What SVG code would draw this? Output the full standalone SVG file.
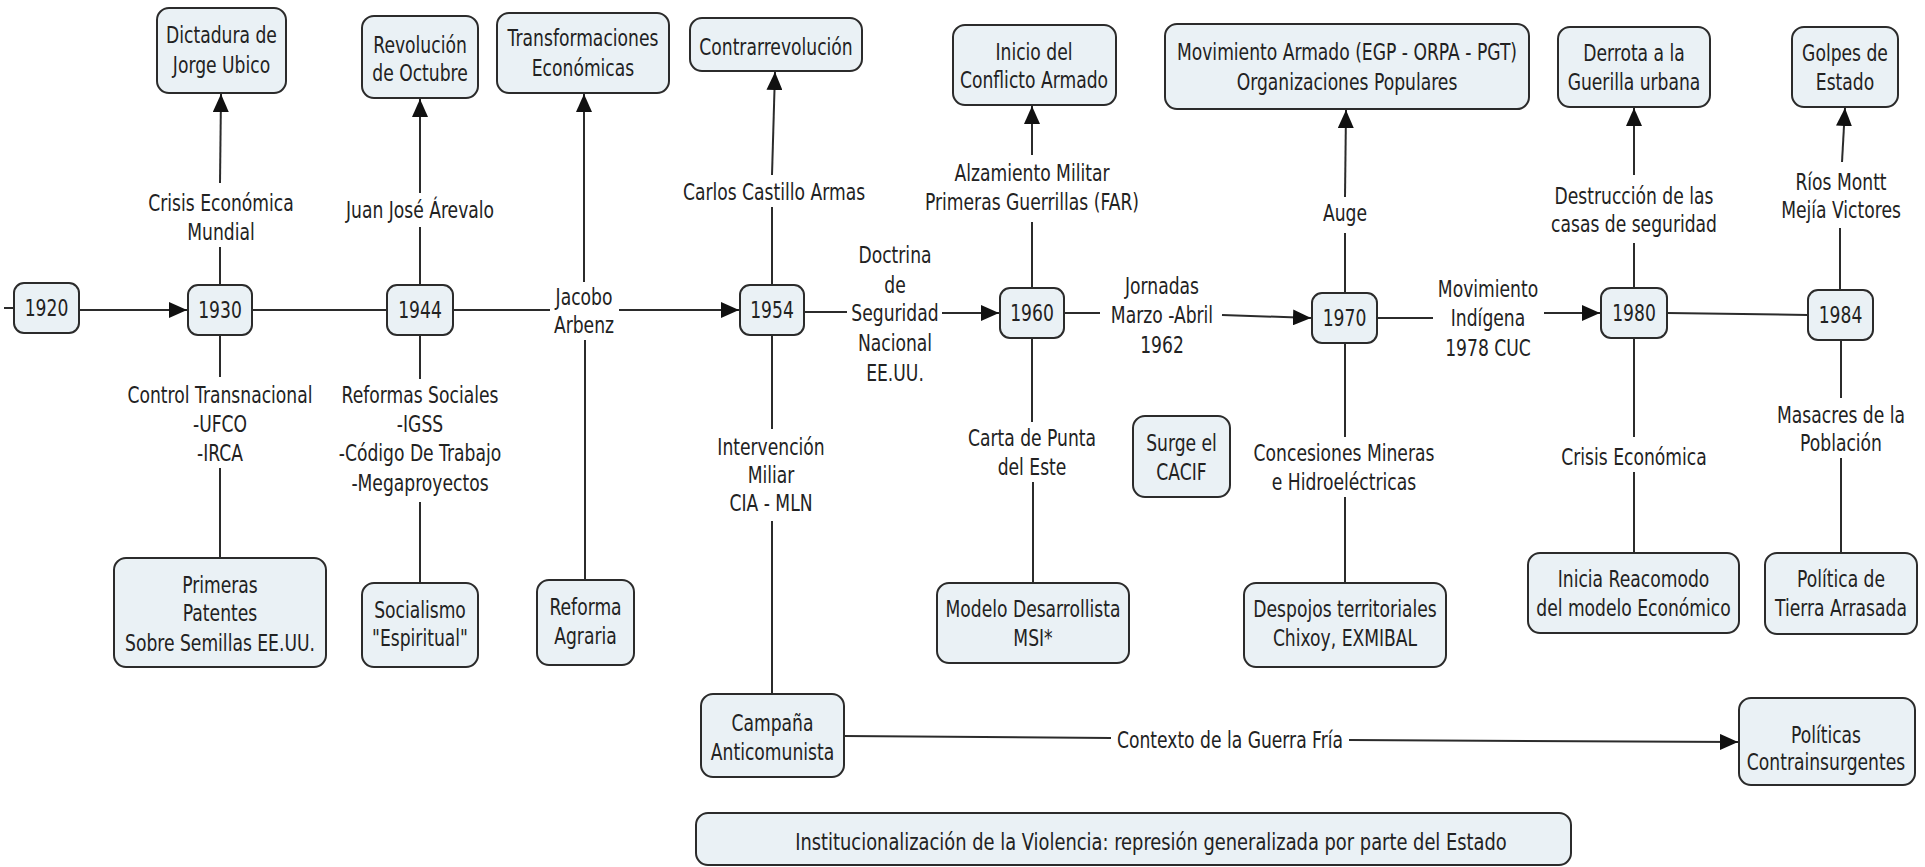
<svg xmlns="http://www.w3.org/2000/svg" width="1925" height="867" viewBox="0 0 1925 867">
<style>
.box{fill:#eaf1f5;stroke:#2b2b2b;stroke-width:2}
.t{font-family:"DejaVu Sans","Liberation Sans",sans-serif;font-size:23.5px;fill:#222;text-anchor:middle}
.ln{stroke:#2b2b2b;stroke-width:2;fill:none}
.ar{stroke:#2b2b2b;stroke-width:2;fill:none;marker-end:url(#arr)}
</style>
<defs>
<marker id="arr" viewBox="0 0 10 10" refX="10" refY="5" markerWidth="18" markerHeight="16" markerUnits="userSpaceOnUse" orient="auto" preserveAspectRatio="none"><path d="M0,0 L10,5 L0,10 z" fill="#111"/></marker>
</defs>
<rect width="1925" height="867" fill="#fff"/>

<g id="connectors">
<line class="ln" x1="4" y1="308" x2="14" y2="308"/>
<line class="ar" x1="79" y1="310" x2="187" y2="310"/>
<line class="ln" x1="252" y1="310" x2="387" y2="310"/>
<line class="ln" x1="453" y1="310" x2="550" y2="310"/>
<line class="ar" x1="619" y1="310" x2="739" y2="310"/>
<line class="ln" x1="804" y1="312" x2="847" y2="312"/>
<line class="ar" x1="942" y1="313" x2="999" y2="313"/>
<line class="ln" x1="1064" y1="313" x2="1100" y2="313"/>
<line class="ar" x1="1222" y1="315" x2="1311" y2="318"/>
<line class="ln" x1="1377" y1="318" x2="1433" y2="318"/>
<line class="ar" x1="1544" y1="313" x2="1600" y2="313"/>
<line class="ln" x1="1667" y1="313" x2="1808" y2="315"/>
<line class="ln" x1="220" y1="285" x2="220" y2="247"/>
<line class="ar" x1="220" y1="183" x2="221" y2="94"/>
<line class="ln" x1="420" y1="285" x2="420" y2="227"/>
<line class="ar" x1="420" y1="193" x2="420" y2="99"/>
<line class="ar" x1="584" y1="282" x2="584" y2="94"/>
<line class="ln" x1="772" y1="285" x2="772" y2="207"/>
<line class="ar" x1="772" y1="175" x2="775" y2="72"/>
<line class="ln" x1="1032" y1="288" x2="1032" y2="222"/>
<line class="ar" x1="1032" y1="155" x2="1032" y2="106"/>
<line class="ln" x1="1345" y1="293" x2="1345" y2="233"/>
<line class="ar" x1="1345" y1="197" x2="1346" y2="110"/>
<line class="ln" x1="1634" y1="288" x2="1634" y2="243"/>
<line class="ar" x1="1634" y1="175" x2="1634" y2="108"/>
<line class="ln" x1="1840" y1="290" x2="1840" y2="228"/>
<line class="ar" x1="1842" y1="162" x2="1845" y2="108"/>
<line class="ln" x1="220" y1="335" x2="220" y2="377"/>
<line class="ln" x1="220" y1="468" x2="220" y2="558"/>
<line class="ln" x1="420" y1="335" x2="420" y2="379"/>
<line class="ln" x1="420" y1="502" x2="420" y2="583"/>
<line class="ln" x1="585" y1="340" x2="585" y2="580"/>
<line class="ln" x1="772" y1="335" x2="772" y2="429"/>
<line class="ln" x1="772" y1="521" x2="772" y2="694"/>
<line class="ln" x1="1032" y1="338" x2="1032" y2="422"/>
<line class="ln" x1="1033" y1="482" x2="1033" y2="583"/>
<line class="ln" x1="1345" y1="343" x2="1345" y2="437"/>
<line class="ln" x1="1345" y1="497" x2="1345" y2="583"/>
<line class="ln" x1="1634" y1="338" x2="1634" y2="437"/>
<line class="ln" x1="1634" y1="472" x2="1634" y2="553"/>
<line class="ln" x1="1841" y1="340" x2="1841" y2="398"/>
<line class="ln" x1="1841" y1="458" x2="1841" y2="553"/>
<line class="ln" x1="844" y1="736" x2="1111" y2="738"/>
<line class="ar" x1="1349" y1="740" x2="1738" y2="742"/>
</g>

<g id="linking-phrases">
<text class="t" transform="matrix(0.73 0 0 1 221 0)"><tspan x="0" y="211">Crisis Económica</tspan><tspan x="0" y="240">Mundial</tspan></text>
<text class="t" transform="matrix(0.73 0 0 1 420 0)"><tspan x="0" y="218">Juan José Árevalo</tspan></text>
<text class="t" transform="matrix(0.73 0 0 1 584 0)"><tspan x="0" y="305">Jacobo</tspan><tspan x="0" y="333">Arbenz</tspan></text>
<text class="t" transform="matrix(0.73 0 0 1 774 0)"><tspan x="0" y="200">Carlos Castillo Armas</tspan></text>
<text class="t" transform="matrix(0.73 0 0 1 895 0)"><tspan x="0" y="263">Doctrina</tspan><tspan x="0" y="293">de</tspan><tspan x="0" y="321">Seguridad</tspan><tspan x="0" y="351">Nacional</tspan><tspan x="0" y="381">EE.UU.</tspan></text>
<text class="t" transform="matrix(0.73 0 0 1 1032 0)"><tspan x="0" y="181">Alzamiento Militar</tspan><tspan x="0" y="210">Primeras Guerrillas (FAR)</tspan></text>
<text class="t" transform="matrix(0.73 0 0 1 1162 0)"><tspan x="0" y="294">Jornadas</tspan><tspan x="0" y="323">Marzo -Abril</tspan><tspan x="0" y="353">1962</tspan></text>
<text class="t" transform="matrix(0.73 0 0 1 1345 0)"><tspan x="0" y="221">Auge</tspan></text>
<text class="t" transform="matrix(0.73 0 0 1 1488 0)"><tspan x="0" y="297">Movimiento</tspan><tspan x="0" y="326">Indígena</tspan><tspan x="0" y="356">1978 CUC</tspan></text>
<text class="t" transform="matrix(0.73 0 0 1 1634 0)"><tspan x="0" y="204">Destrucción de las</tspan><tspan x="0" y="232">casas de seguridad</tspan></text>
<text class="t" transform="matrix(0.73 0 0 1 1841 0)"><tspan x="0" y="190">Ríos Montt</tspan><tspan x="0" y="218">Mejía Victores</tspan></text>
<text class="t" transform="matrix(0.73 0 0 1 220 0)"><tspan x="0" y="403">Control Transnacional</tspan><tspan x="0" y="432">-UFCO</tspan><tspan x="0" y="461">-IRCA</tspan></text>
<text class="t" transform="matrix(0.73 0 0 1 420 0)"><tspan x="0" y="403">Reformas Sociales</tspan><tspan x="0" y="432">-IGSS</tspan><tspan x="0" y="461">-Código De Trabajo</tspan><tspan x="0" y="491">-Megaproyectos</tspan></text>
<text class="t" transform="matrix(0.73 0 0 1 771 0)"><tspan x="0" y="455">Intervención</tspan><tspan x="0" y="483">Miliar</tspan><tspan x="0" y="511">CIA - MLN</tspan></text>
<text class="t" transform="matrix(0.73 0 0 1 1032 0)"><tspan x="0" y="446">Carta de Punta</tspan><tspan x="0" y="475">del Este</tspan></text>
<text class="t" transform="matrix(0.73 0 0 1 1344 0)"><tspan x="0" y="461">Concesiones Mineras</tspan><tspan x="0" y="490">e Hidroeléctricas</tspan></text>
<text class="t" transform="matrix(0.73 0 0 1 1634 0)"><tspan x="0" y="465">Crisis Económica</tspan></text>
<text class="t" transform="matrix(0.73 0 0 1 1841 0)"><tspan x="0" y="423">Masacres de la</tspan><tspan x="0" y="451">Población</tspan></text>
<text class="t" transform="matrix(0.73 0 0 1 1230 0)"><tspan x="0" y="748">Contexto de la Guerra Fría</tspan></text>
</g>

<g id="n1920"><rect class="box" x="14" y="283" width="65" height="50" rx="10"/><text class="t" transform="matrix(0.73 0 0 1 46.5 0)"><tspan x="0" y="316">1920</tspan></text></g>
<g id="n1930"><rect class="box" x="188" y="285" width="64" height="50" rx="10"/><text class="t" transform="matrix(0.73 0 0 1 220 0)"><tspan x="0" y="318">1930</tspan></text></g>
<g id="n1944"><rect class="box" x="387" y="285" width="66" height="50" rx="10"/><text class="t" transform="matrix(0.73 0 0 1 420 0)"><tspan x="0" y="318">1944</tspan></text></g>
<g id="n1954"><rect class="box" x="740" y="285" width="64" height="50" rx="10"/><text class="t" transform="matrix(0.73 0 0 1 772 0)"><tspan x="0" y="318">1954</tspan></text></g>
<g id="n1960"><rect class="box" x="1000" y="288" width="64" height="50" rx="10"/><text class="t" transform="matrix(0.73 0 0 1 1032 0)"><tspan x="0" y="321">1960</tspan></text></g>
<g id="n1970"><rect class="box" x="1312" y="293" width="65" height="50" rx="10"/><text class="t" transform="matrix(0.73 0 0 1 1344.5 0)"><tspan x="0" y="326">1970</tspan></text></g>
<g id="n1980"><rect class="box" x="1601" y="288" width="66" height="50" rx="10"/><text class="t" transform="matrix(0.73 0 0 1 1634 0)"><tspan x="0" y="321">1980</tspan></text></g>
<g id="n1984"><rect class="box" x="1808" y="290" width="65" height="50" rx="10"/><text class="t" transform="matrix(0.73 0 0 1 1840.5 0)"><tspan x="0" y="323">1984</tspan></text></g>

<g id="dictadura"><rect class="box" x="157" y="8" width="129" height="85" rx="12"/><text class="t" transform="matrix(0.73 0 0 1 221.5 0)"><tspan x="0" y="43">Dictadura de</tspan><tspan x="0" y="73">Jorge Ubico</tspan></text></g>
<g id="revolucion"><rect class="box" x="362" y="16" width="116" height="82" rx="12"/><text class="t" transform="matrix(0.73 0 0 1 420 0)"><tspan x="0" y="53">Revolución</tspan><tspan x="0" y="81">de Octubre</tspan></text></g>
<g id="transformaciones"><rect class="box" x="497" y="13" width="172" height="80" rx="12"/><text class="t" transform="matrix(0.73 0 0 1 583 0)"><tspan x="0" y="46">Transformaciones</tspan><tspan x="0" y="76">Económicas</tspan></text></g>
<g id="contrarrevolucion"><rect class="box" x="690" y="18" width="172" height="53" rx="12"/><text class="t" transform="matrix(0.73 0 0 1 776 0)"><tspan x="0" y="55">Contrarrevolución</tspan></text></g>
<g id="inicio"><rect class="box" x="953" y="25" width="163" height="80" rx="12"/><text class="t" transform="matrix(0.73 0 0 1 1034 0)"><tspan x="0" y="60">Inicio del</tspan><tspan x="0" y="88">Conflicto Armado</tspan></text></g>
<g id="movimiento"><rect class="box" x="1165" y="24" width="364" height="85" rx="12"/><text class="t" transform="matrix(0.73 0 0 1 1347 0)"><tspan x="0" y="60">Movimiento Armado (EGP - ORPA - PGT)</tspan><tspan x="0" y="90">Organizaciones Populares</tspan></text></g>
<g id="derrota"><rect class="box" x="1558" y="27" width="152" height="80" rx="12"/><text class="t" transform="matrix(0.73 0 0 1 1634 0)"><tspan x="0" y="61">Derrota a la</tspan><tspan x="0" y="90">Guerilla urbana</tspan></text></g>
<g id="golpes"><rect class="box" x="1792" y="27" width="106" height="80" rx="12"/><text class="t" transform="matrix(0.73 0 0 1 1845 0)"><tspan x="0" y="61">Golpes de</tspan><tspan x="0" y="90">Estado</tspan></text></g>

<g id="primeras"><rect class="box" x="114" y="558" width="212" height="109" rx="12"/><text class="t" transform="matrix(0.73 0 0 1 220 0)"><tspan x="0" y="593">Primeras</tspan><tspan x="0" y="621">Patentes</tspan><tspan x="0" y="651">Sobre Semillas EE.UU.</tspan></text></g>
<g id="socialismo"><rect class="box" x="362" y="583" width="116" height="84" rx="12"/><text class="t" transform="matrix(0.73 0 0 1 420 0)"><tspan x="0" y="618">Socialismo</tspan><tspan x="0" y="646">"Espiritual"</tspan></text></g>
<g id="reforma"><rect class="box" x="537" y="580" width="97" height="85" rx="12"/><text class="t" transform="matrix(0.73 0 0 1 585.5 0)"><tspan x="0" y="615">Reforma</tspan><tspan x="0" y="644">Agraria</tspan></text></g>
<g id="modelo"><rect class="box" x="937" y="583" width="192" height="80" rx="12"/><text class="t" transform="matrix(0.73 0 0 1 1033 0)"><tspan x="0" y="617">Modelo Desarrollista</tspan><tspan x="0" y="646">MSI*</tspan></text></g>
<g id="surge"><rect class="box" x="1133" y="416" width="97" height="81" rx="12"/><text class="t" transform="matrix(0.73 0 0 1 1181.5 0)"><tspan x="0" y="451">Surge el</tspan><tspan x="0" y="480">CACIF</tspan></text></g>
<g id="despojos"><rect class="box" x="1244" y="583" width="202" height="84" rx="12"/><text class="t" transform="matrix(0.73 0 0 1 1345 0)"><tspan x="0" y="617">Despojos territoriales</tspan><tspan x="0" y="646">Chixoy, EXMIBAL</tspan></text></g>
<g id="inicia"><rect class="box" x="1528" y="553" width="211" height="80" rx="12"/><text class="t" transform="matrix(0.73 0 0 1 1633.5 0)"><tspan x="0" y="587">Inicia Reacomodo</tspan><tspan x="0" y="616">del modelo Económico</tspan></text></g>
<g id="politica"><rect class="box" x="1765" y="553" width="152" height="81" rx="12"/><text class="t" transform="matrix(0.73 0 0 1 1841 0)"><tspan x="0" y="587">Política de</tspan><tspan x="0" y="616">Tierra Arrasada</tspan></text></g>
<g id="campana"><rect class="box" x="701" y="694" width="143" height="83" rx="12"/><text class="t" transform="matrix(0.73 0 0 1 772.5 0)"><tspan x="0" y="731">Campaña</tspan><tspan x="0" y="760">Anticomunista</tspan></text></g>
<g id="politicas"><rect class="box" x="1739" y="698" width="176" height="87" rx="12"/><text class="t" transform="matrix(0.73 0 0 1 1826 0)"><tspan x="0" y="743">Políticas</tspan><tspan x="0" y="770">Contrainsurgentes</tspan></text></g>
<g id="institucionalizacion"><rect class="box" x="696" y="813" width="875" height="52" rx="12"/><text class="t" transform="matrix(0.76 0 0 1 1151 0)"><tspan x="0" y="850">Institucionalización de la Violencia: represión generalizada por parte del Estado</tspan></text></g>
</svg>
